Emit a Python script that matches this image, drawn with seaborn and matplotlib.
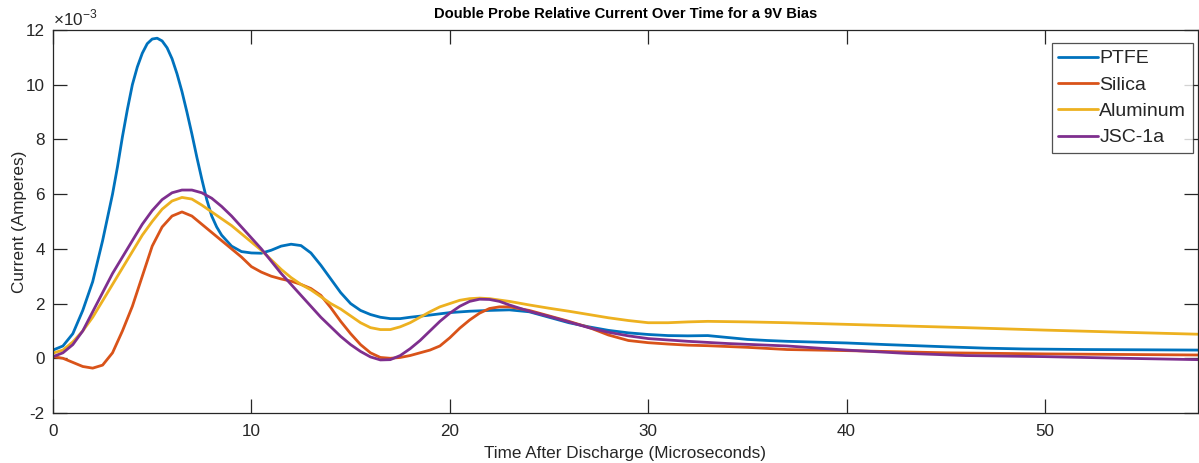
import numpy as np
import pandas as pd
import matplotlib
matplotlib.use("Agg")
import matplotlib.pyplot as plt
import seaborn as sns
from matplotlib.ticker import FuncFormatter

# ---- data (current in units of 1e-3 A, time in microseconds) ----
ptfe_t = [0, 0.5, 1, 1.5, 2, 2.5, 3, 3.25, 3.5, 3.75, 4, 4.25, 4.5, 4.75, 5, 5.25, 5.5, 5.75, 6,
          6.25, 6.5, 6.75, 7, 7.25, 7.5, 7.75, 8, 8.25, 8.5, 9, 9.5, 10,
          10.5, 11, 11.5, 12, 12.5, 13, 13.5, 14, 14.5, 15, 15.5, 16, 16.5, 17, 17.5, 18, 19, 20, 21,
          22, 23, 24, 25, 26, 27, 28, 29, 30, 31, 32, 33, 34, 35, 36, 37, 38, 40, 42, 45, 47, 49, 52,
          55, 57.7]
ptfe_i = [0.3, 0.45, 0.9, 1.75, 2.8, 4.3, 6.0, 7.0, 8.1, 9.1, 10.0, 10.65, 11.15, 11.5, 11.67,
          11.7, 11.6, 11.35, 10.95, 10.4, 9.75, 9.0, 8.2, 7.35, 6.55, 5.8, 5.2, 4.8, 4.5, 4.1, 3.9,
          3.85, 3.84, 3.95, 4.1, 4.17, 4.12, 3.85, 3.4, 2.9, 2.4, 2.0, 1.75,
          1.6, 1.5, 1.45, 1.45, 1.5, 1.58, 1.67, 1.72, 1.75, 1.77, 1.7, 1.5, 1.3, 1.15, 1.02, 0.93,
          0.87, 0.83, 0.82, 0.83, 0.76, 0.69, 0.65, 0.62, 0.6, 0.56, 0.5, 0.42, 0.37, 0.34, 0.32,
          0.31, 0.3]

silica_t = [0, 0.5, 1, 1.5, 2, 2.5, 3, 3.5, 4, 4.5, 5, 5.5, 6, 6.5, 7, 7.5, 8, 8.5, 9, 9.5, 10,
            10.5, 11, 11.5, 12, 12.5, 13, 13.5, 14, 14.5, 15, 15.5, 16, 16.5, 17, 17.5, 18, 18.5, 19,
            19.5, 20, 20.5, 21, 21.5, 22, 22.5, 23, 24, 25, 26, 27, 28, 29, 30, 31, 32, 33, 35, 37,
            40, 45, 50, 57.7]
silica_i = [0.06, 0.0, -0.15, -0.3, -0.36, -0.25, 0.2, 1.0, 1.9, 3.0, 4.1, 4.8, 5.2, 5.35, 5.2,
            4.9, 4.6, 4.3, 4.0, 3.7, 3.35, 3.15, 3.0, 2.9, 2.82, 2.7, 2.55, 2.3, 1.85, 1.35, 0.9,
            0.5, 0.2, 0.03, 0.0, 0.03, 0.1, 0.2, 0.3, 0.45, 0.75, 1.1, 1.4, 1.65, 1.82, 1.88, 1.88,
            1.75, 1.55, 1.35, 1.13, 0.85, 0.65, 0.57, 0.52, 0.48, 0.46, 0.4, 0.32, 0.28, 0.2, 0.16,
            0.12]

alum_t = [0, 0.5, 1, 1.5, 2, 2.5, 3, 3.5, 4, 4.5, 5, 5.5, 6, 6.5, 7, 7.5, 8, 8.5, 9, 9.5, 10,
          10.5, 11, 11.5, 12, 12.5, 13, 13.5, 14, 14.5, 15, 15.5, 16, 16.5, 17, 17.5, 18, 18.5, 19,
          19.5, 20, 20.5, 21, 21.5, 22, 23, 24, 25, 26, 27, 28, 29, 30, 31, 32, 33, 35, 37, 40, 43,
          46, 50, 54, 57.7]
alum_i = [0.19, 0.3, 0.6, 1.0, 1.5, 2.1, 2.7, 3.3, 3.9, 4.5, 5.0, 5.45, 5.75, 5.88, 5.82, 5.6,
          5.35, 5.1, 4.85, 4.55, 4.25, 3.95, 3.6, 3.25, 2.95, 2.7, 2.5, 2.25, 2.0, 1.8, 1.55, 1.3,
          1.12, 1.05, 1.05, 1.15, 1.3, 1.5, 1.7, 1.88, 2.0, 2.12, 2.18, 2.2, 2.18, 2.08, 1.95, 1.83,
          1.72, 1.6, 1.48, 1.38, 1.3, 1.3, 1.33, 1.35, 1.33, 1.3, 1.24, 1.18, 1.12, 1.03, 0.95,
          0.88]

jsc_t = [0, 0.5, 1, 1.5, 2, 2.5, 3, 3.5, 4, 4.5, 5, 5.5, 6, 6.5, 7, 7.5, 8, 8.5, 9, 9.5, 10,
         10.5, 11, 11.5, 12, 12.5, 13, 13.5, 14, 14.5, 15, 15.5, 16, 16.5, 17, 17.5, 18, 18.5, 19,
         19.5, 20, 20.5, 21, 21.5, 22, 22.5, 23, 24, 25, 26, 27, 28, 29, 30, 32, 34, 37, 40, 43,
         46, 50, 54, 57.7]
jsc_i = [0.06, 0.2, 0.5, 1.0, 1.7, 2.4, 3.1, 3.7, 4.3, 4.9, 5.4, 5.8, 6.05, 6.15, 6.15, 6.05,
         5.85, 5.55, 5.2, 4.8, 4.4, 4.0, 3.55, 3.1, 2.7, 2.3, 1.9, 1.5, 1.15, 0.8, 0.5, 0.25, 0.05,
         -0.06, -0.05, 0.1, 0.35, 0.65, 1.0, 1.35, 1.65, 1.9, 2.08, 2.16, 2.15, 2.08, 1.95, 1.72,
         1.53, 1.33, 1.12, 0.95, 0.82, 0.72, 0.62, 0.54, 0.45, 0.3, 0.18, 0.1, 0.06, 0.0, -0.05]

series_names = ["PTFE", "Silica", "Aluminum", "JSC-1a"]
series_t = [ptfe_t, silica_t, alum_t, jsc_t]
series_i = [ptfe_i, silica_i, alum_i, jsc_i]
colors = ["#0072BD", "#D95319", "#EDB120", "#7E2F8E"]

xticks = [0, 10, 20, 30, 40, 50]
yticks = [-2, 0, 2, 4, 6, 8, 10, 12]  # in units of 1e-3

rows = []
for name, t, i in zip(series_names, series_t, series_i):
    for tt, ii in zip(t, i):
        rows.append({"Time": tt, "Current": ii * 1e-3, "Material": name})
df = pd.DataFrame(rows)

sns.set_style("ticks")
plt.rcParams["font.family"] = ["Liberation Sans", "DejaVu Sans"]
plt.rcParams["axes.unicode_minus"] = False
plt.rcParams["mathtext.fontset"] = "custom"
plt.rcParams["mathtext.rm"] = "Liberation Sans"
axcol = "#262626"
fs = 12.3

fig = plt.figure(figsize=(11.99, 4.63), dpi=100)
ax = fig.add_axes([53 / 1199, 1 - 413 / 463, 1 - 53 / 1199 - 0.001, (413 - 30) / 463])

sns.lineplot(data=df, x="Time", y="Current", hue="Material", hue_order=series_names,
             palette=colors, linewidth=2.0, sort=True, estimator=None, ax=ax)

ax.set_xlim(0, 57.7)
ax.set_ylim(-2e-3, 12e-3)
ax.set_xticks(xticks)
ax.set_yticks([v * 1e-3 for v in yticks])
ax.yaxis.set_major_formatter(FuncFormatter(lambda v, p: "%g" % round(v * 1e3, 6)))
ax.text(0.0, 1.004, r"$\times$10$^{-3}$", transform=ax.transAxes, ha="left", va="bottom",
        fontsize=fs, color=axcol)

for s in ax.spines.values():
    s.set_visible(True)
    s.set_color(axcol)
    s.set_linewidth(0.9)
ax.tick_params(direction="in", length=10, width=0.9, colors=axcol, labelsize=fs,
               top=True, right=True, labeltop=False, labelright=False)
ax.tick_params(axis="x", pad=8)
ax.tick_params(axis="y", pad=6)

ax.set_xlabel("Time After Discharge (Microseconds)", fontsize=fs, color=axcol, labelpad=5)
ax.set_ylabel("Current (Amperes)", fontsize=fs, color=axcol, labelpad=-1)
ax.set_title("Double Probe Relative Current Over Time for a 9V Bias", fontsize=10.6,
             fontweight="bold", color="black", pad=9)

leg = ax.legend(loc="upper right", bbox_to_anchor=(1193 / 1199, 1 - 43 / 463),
                bbox_transform=fig.transFigure, borderaxespad=0,
                fontsize=14, frameon=True, fancybox=False,
                edgecolor=axcol, handlelength=2.05, handletextpad=0.05, borderpad=0.35,
                labelspacing=0.45, title=None)
leg.get_frame().set_linewidth(0.9)
for line in leg.get_lines():
    line.set_linewidth(2.0)

fig.savefig("out.png", dpi=100)
